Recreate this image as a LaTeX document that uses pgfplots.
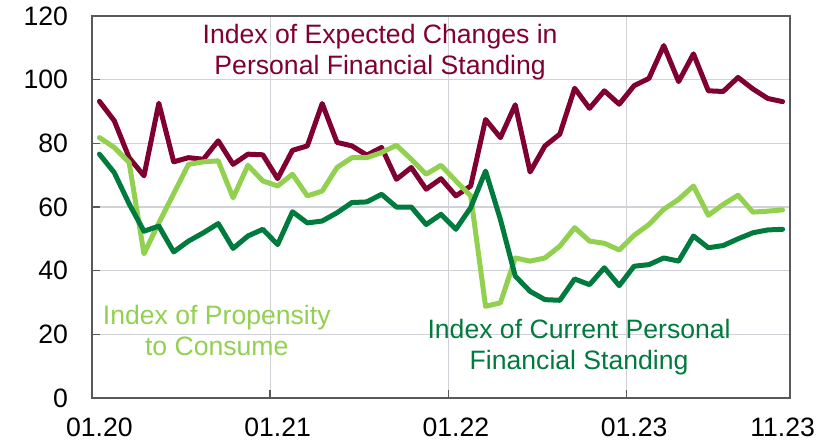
\documentclass[border=0pt]{standalone}
\usepackage{fontspec}
\setmainfont{Liberation Sans}
\usepackage{pgfplots}
\pgfplotsset{compat=1.18}
\definecolor{expcol}{RGB}{128,0,50}
\definecolor{curcol}{RGB}{0,122,61}
\definecolor{procol}{RGB}{146,208,80}
\definecolor{axisgray}{RGB}{89,89,89}
\definecolor{gridgray}{RGB}{208,210,216}
\begin{document}
\begin{tikzpicture}
\begin{axis}[
  scale only axis,
  width=349pt, height=191pt,
  xmin=-0.5, xmax=46.5, ymin=0, ymax=120,
  xtick={11.5,23.5,35.5}, xticklabels={},
  xmajorgrids, ymajorgrids,
  extra x ticks={0,12,24,36,46},
  extra x tick labels={01.20,01.21,01.22,01.23,11.23},
  extra x tick style={grid=none, major tick length=0pt},
  ytick={0,20,...,120},
  grid style={color=gridgray, line width=0.6pt},
  tick align=inside, xtick pos=bottom, ytick pos=left,
  major tick length=4pt,
  tick style={draw=axisgray, line width=0.8pt},
  axis line style={draw=axisgray, line width=1pt},
  tick label style={font=\fontsize{13.3}{15}\selectfont, text=black},
  yticklabel style={xshift=-8.5pt},
  xticklabel style={yshift=-6.5pt},
  /pgf/number format/assume math mode=true,
  every axis plot/.append style={line width=2.5pt, line join=round, line cap=round, mark=none},
]
\addplot[expcol] coordinates {
(0,93.2) (1,87.1) (2,75.5) (3,69.8) (4,92.6) (5,74.2) (6,75.5) (7,75.0) (8,80.8) (9,73.4)
(10,76.6) (11,76.4) (12,68.9) (13,77.8) (14,79.2) (15,92.5) (16,80.3) (17,79.2) (18,76.3) (19,78.7)
(20,68.7) (21,72.4) (22,65.6) (23,68.9) (24,63.5) (25,66.6) (26,87.5) (27,81.8) (28,92.1) (29,71.0)
(30,79.2) (31,82.9) (32,97.3) (33,91.0) (34,96.5) (35,92.3) (36,98.1) (37,100.4) (38,110.7) (39,99.4)
(40,108.1) (41,96.5) (42,96.3) (43,100.7) (44,97.1) (45,94.1) (46,93.1)};
\addplot[procol] coordinates {
(0,81.8) (1,78.7) (2,74.0) (3,45.3) (4,55.0) (5,64.2) (6,73.4) (7,74.2) (8,74.5) (9,62.9)
(10,73.1) (11,68.2) (12,66.6) (13,70.3) (14,63.5) (15,65.0) (16,72.4) (17,75.5) (18,75.5) (19,77.1)
(20,79.4) (21,75.0) (22,70.3) (23,73.1) (24,68.2) (25,63.5) (26,28.8) (27,29.9) (28,44.0) (29,43.0)
(30,44.0) (31,47.7) (32,53.5) (33,49.3) (34,48.6) (35,46.5) (36,51.1) (37,54.5) (38,59.3) (39,62.4)
(40,66.6) (41,57.4) (42,60.8) (43,63.7) (44,58.4) (45,58.7) (46,59.1)};
\addplot[curcol] coordinates {
(0,76.6) (1,70.8) (2,61.0) (3,52.4) (4,54.0) (5,45.9) (6,49.3) (7,51.9) (8,54.8) (9,47.0)
(10,50.9) (11,53.0) (12,48.2) (13,58.5) (14,55.0) (15,55.6) (16,58.2) (17,61.4) (18,61.6) (19,64.0)
(20,60.0) (21,60.0) (22,54.5) (23,57.7) (24,53.0) (25,59.8) (26,71.3) (27,56.1) (28,38.3) (29,33.5)
(30,30.9) (31,30.7) (32,37.4) (33,35.6) (34,40.9) (35,35.3) (36,41.4) (37,41.9) (38,44.0) (39,43.0)
(40,50.9) (41,47.2) (42,47.9) (43,50.0) (44,51.9) (45,52.8) (46,53.0)};
\node[font=\fontsize{13.3}{15.5}\selectfont, text=expcol, align=center] at (axis cs:18.9,108.5) {Index of Expected Changes in\\Personal Financial Standing};
\node[font=\fontsize{13.3}{15.5}\selectfont, text=procol, align=center] at (axis cs:7.9,21.2) {Index of Propensity\\to Consume};
\node[font=\fontsize{13.3}{15.5}\selectfont, text=curcol, align=center] at (axis cs:32.3,16.0) {Index of Current Personal\\Financial Standing};
\end{axis}
\pgfresetboundingbox
\path[use as bounding box] ([xshift=-46pt,yshift=-21.5pt]current axis.south west) rectangle ([xshift=20.5pt,yshift=8pt]current axis.north east);
\end{tikzpicture}
\end{document}
